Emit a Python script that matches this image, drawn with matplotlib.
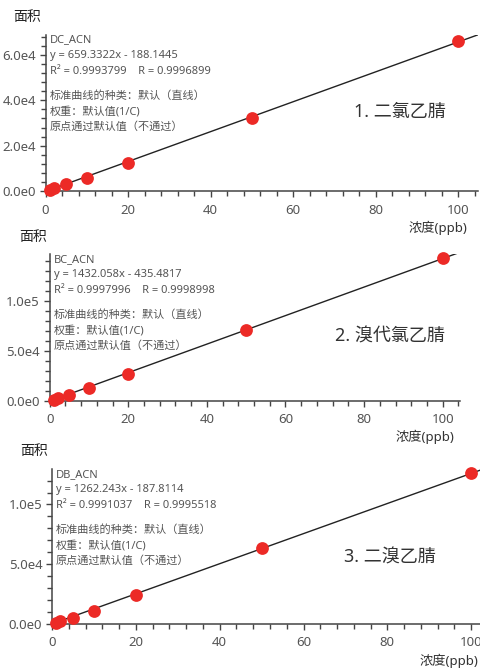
import matplotlib
matplotlib.use("Agg")
import matplotlib.pyplot as plt
from matplotlib.ticker import FixedLocator, FixedFormatter, MultipleLocator
from matplotlib.transforms import offset_copy

plt.rcParams["font.family"] = ["Noto Sans", "Noto Sans CJK SC", "DejaVu Sans"]

# 浓度 (ppb)
conc = [1, 2, 5, 10, 20, 50, 100]

# 峰面积
area_dc = [500, 1300, 3250, 5600, 12450, 32300, 66100]
area_bc = [800, 2300, 6000, 13000, 26500, 70600, 143000]
area_db = [800, 2100, 4700, 11000, 24100, 63700, 126000]

names = ["DC_ACN", "BC_ACN", "DB_ACN"]
titles = ["1. 二氯乙腈", "2. 溴代氯乙腈", "3. 二溴乙腈"]
slopes = [659.3322, 1432.058, 1262.243]
intercepts = [-188.1445, -435.4817, -187.8114]
slope_txt = ["659.3322", "1432.058", "1262.243"]
icpt_txt = ["188.1445", "435.4817", "187.8114"]
r2_txt = ["0.9993799", "0.9997996", "0.9991037"]
r_txt = ["0.9996899", "0.9998998", "0.9995518"]

x_ticks = [0, 20, 40, 60, 80, 100]
y_ticks = [[0, 2e4, 4e4, 6e4], [0, 5e4, 1e5], [0, 5e4, 1e5]]
y_labels = [["0.0e0", "2.0e4", "4.0e4", "6.0e4"],
            ["0.0e0", "5.0e4", "1.0e5"],
            ["0.0e0", "5.0e4", "1.0e5"]]
y_minor = [4000, 10000, 10000]
x_max = [104.8, 104.4, 102.1]
y_max = [68800, 147000, 129500]

info = ["标准曲线的种类：默认（直线）", "权重：默认值(1/C)", "原点通过默认值（不通过）"]

# 每个子图的位置 (figure fraction)
boxes = [[0.0948, 0.7149, 0.9010, 0.2328],
         [0.1035, 0.4019, 0.8548, 0.2185],
         [0.1083, 0.0691, 0.8917, 0.2305]]
title_pos = [(0.819, 0.506), (0.829, 0.437), (0.790, 0.426)]
ylab_pos = [(27, 18), (33, 238), (34, 452)]
xlab_pos = [(438, 228), (425, 437), (449, 661)]

W, H = 480, 670
GRAY = "#555555"

fig = plt.figure(figsize=(W / 100, H / 100), dpi=100)

for i, area in enumerate([area_dc, area_bc, area_db]):
    ax = fig.add_axes(boxes[i])
    for s in ["top", "right"]:
        ax.spines[s].set_visible(False)
    for s in ["left", "bottom"]:
        ax.spines[s].set_color("#444444")
        ax.spines[s].set_linewidth(1.1)

    ax.set_xlim(0, x_max[i])
    ax.set_ylim(0, y_max[i])

    # 回归直线
    xs = [0, x_max[i]]
    ys = [slopes[i] * x + intercepts[i] for x in xs]
    ax.plot(xs, ys, color="#222222", lw=1.0, zorder=2)
    ax.plot(conc, area, "o", color="#ec2a26", ms=9.2, mec="none",
            zorder=3, clip_on=False)

    ax.xaxis.set_major_locator(FixedLocator(x_ticks))
    ax.xaxis.set_minor_locator(MultipleLocator(4))
    ax.yaxis.set_major_locator(FixedLocator(y_ticks[i]))
    ax.yaxis.set_major_formatter(FixedFormatter(y_labels[i]))
    ax.yaxis.set_minor_locator(MultipleLocator(y_minor[i]))
    ax.tick_params(which="both", direction="out", color="#444444",
                   labelcolor=GRAY, labelsize=9.5)
    ax.tick_params(which="major", length=4, width=1.0)
    ax.tick_params(which="minor", length=3.5, width=1.0)
    ax.tick_params(axis="x", pad=5)
    ax.tick_params(axis="y", pad=3)

    lines = [names[i],
             f"y = {slope_txt[i]}x - {icpt_txt[i]}",
             f"R² = {r2_txt[i]}    R = {r_txt[i]}",
             None] + info
    dy = 0
    for ln in lines:
        if ln is None:
            dy += 9.5
            continue
        tr = offset_copy(ax.transAxes, fig=fig, x=4, y=-5 - dy, units="dots")
        ax.text(0, 1, ln, transform=tr, fontsize=8, color=GRAY,
                ha="left", va="center")
        dy += 15.5

    ax.text(title_pos[i][0], title_pos[i][1], titles[i], transform=ax.transAxes,
            fontsize=13, color="#333333", ha="center", va="center")

    fig.text(ylab_pos[i][0] / W, 1 - ylab_pos[i][1] / H, "面积",
             fontsize=10, color="#222222", ha="center", va="center")
    fig.text(xlab_pos[i][0] / W, 1 - xlab_pos[i][1] / H, "浓度(ppb)",
             fontsize=9.5, color="#333333", ha="center", va="center")

fig.savefig("out.png", dpi=100)
